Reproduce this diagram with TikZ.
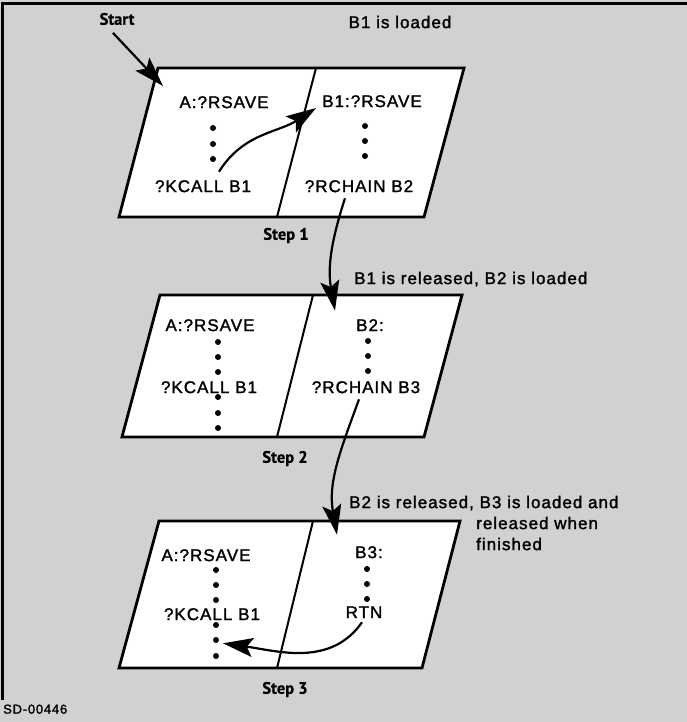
\documentclass[tikz,border=0pt]{standalone}
\usepackage{fontspec}
\setmainfont{Liberation Sans}[LetterSpace=6,FakeBold=1.6]
\newfontfamily\stepfont{PT Sans}[FakeBold=0.6]
\usetikzlibrary{arrows.meta}

\definecolor{paper}{gray}{0.82}

\begin{document}
\begin{tikzpicture}[x=1pt,y=1pt,
  txt/.style={inner sep=0pt, text height=12.2pt, text depth=0pt,
    font=\fontsize{17}{20}\selectfont},
  lbl/.style={txt, anchor=west},
  steplabel/.style={inner sep=0pt, text height=11.5pt, text depth=0pt,
    font=\stepfont\bfseries\fontsize{16.5}{19}\selectfont},
  panel/.style={draw=black, line width=2.8pt, fill=white, line join=miter},
  divider/.style={draw=black, line width=2pt},
  headtip/.tip={Stealth[length=30pt 0,width=19pt 0,inset=6pt 0]},
  flow/.style={draw=black, line width=2.2pt, -headtip},
]
% sheet and its frame
\useasboundingbox (0,0) rectangle (687,-722);
\fill[paper] (0,0) rectangle (687,-722);
\draw[line width=2.4pt] (687,-3.5) -- (2.5,-3.5) -- (2.5,-700);

% ---------- Step 1 ----------
\draw[panel] (158,-68) -- (464,-68) -- (424,-217) -- (119,-217) -- cycle;
\draw[divider] (316,-68) -- (277,-217);
\node[txt] (a1) at (224,-102) {A:?RSAVE};
\node[txt] (k1) at (203,-186) {?KCALL B1};
\node[txt] (b1) at (372,-101) {B1:?RSAVE};
\node[txt] (r1) at (359,-186) {?RCHAIN B2};
\foreach \y in {128,144,159} \fill (213,-\y) circle (3pt);
\foreach \y in {126,141,156} \fill (365,-\y) circle (3pt);
\node[steplabel] (start) at (117,-19) {Start};
\coordinate (entry) at (163,-86);
\node[txt] (loaded1) at (400,-22) {B1 is loaded};
\node[steplabel] (s1) at (286,-234) {Step 1};

% ---------- Step 2 ----------
\draw[panel] (160,-295) -- (462,-295) -- (424,-437) -- (122,-437) -- cycle;
\draw[divider] (313,-295) -- (277,-437);
\node[txt] (a2) at (210,-325) {A:?RSAVE};
\node[txt] (k2) at (209,-387) {?KCALL B1};
\node[txt] (b2) at (370,-325) {B2:};
\node[txt] (r2) at (366,-387) {?RCHAIN B3};
\foreach \y in {342,357,372,397,413,428} \fill (218,-\y) circle (3pt);
\foreach \y in {341,356,371} \fill (368,-\y) circle (3pt);
\node[lbl] (loaded2) at (354,-278) {B1 is released, B2 is loaded};
\node[steplabel] (s2) at (285,-457) {Step 2};

% ---------- Step 3 ----------
\draw[panel] (159,-521) -- (460,-521) -- (422,-668) -- (119,-668) -- cycle;
\draw[divider] (313,-521) -- (277,-668);
\node[txt] (a3) at (206,-555) {A:?RSAVE};
\node[txt] (k3) at (212,-614) {?KCALL B1};
\node[txt] (b3) at (369,-552) {B3:};
\node[txt] (rtn) at (364,-612) {RTN};
\foreach \y in {570,585,600,625,640,656} \fill (216,-\y) circle (3pt);
\foreach \y in {569,584,599} \fill (367,-\y) circle (3pt);
\node[lbl] (loaded3) at (349,-502) {B2 is released, B3 is loaded and};
\node[lbl] (loaded3b) at (476,-523) {released when};
\node[lbl] (loaded3c) at (476,-544) {finished};
\node[steplabel] (s3) at (285,-688) {Step 3};

\node[txt, anchor=west, font=\fontsize{13}{15}\selectfont, text height=9.3pt]
  (tag) at (3,-709) {SD-00446};

% ---------- control flow ----------
\draw[flow] ([xshift=-4pt,yshift=-8pt]start.south) -- (entry);
\draw[flow] ([xshift=16pt,yshift=8pt]k1.north)
  to[out=58,in=213] ([xshift=-6pt,yshift=-7pt]b1.west);
\draw[flow] ([xshift=-14pt,yshift=-6pt]r1.south)
  to[out=252,in=100] ([xshift=-35pt,yshift=8pt]b2.north);
\draw[flow] ([xshift=-7pt,yshift=-6pt]r2.south)
  to[out=250,in=100] ([xshift=-32pt,yshift=11pt]b3.north);
\draw[flow] ([xshift=-2pt,yshift=-4pt]rtn.south)
  to[out=235,in=-8] ([xshift=11pt,yshift=-23pt]k3.south);
\end{tikzpicture}
\end{document}
